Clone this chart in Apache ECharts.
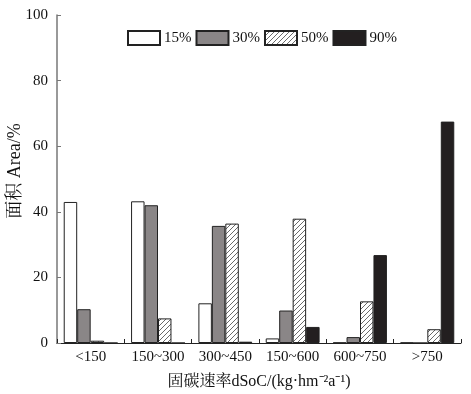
<!DOCTYPE html>
<html><head><meta charset="utf-8">
<script src="https://cdn.jsdelivr.net/npm/echarts@6/dist/echarts.min.js"></script>
<style>html,body{margin:0;padding:0;background:#fff}#c{width:471px;height:394px}</style>
</head><body><div id="c"></div>
<script>
const categories = ['<150', '150~300', '300~450', '150~600', '600~750', '>750'];
const seriesNames = ['15%', '30%', '50%', '90%'];
const s15 = [43.0, 43.2, 12.1, 1.4, 0.1, 0.1];
const s30 = [10.3, 42.0, 35.7, 9.9, 1.8, 0];
const s50 = [0.7, 7.5, 36.4, 37.9, 12.7, 4.2];
const s90 = [0, 0, 0.4, 4.9, 26.8, 67.5];
const yTicks = [0, 20, 40, 60, 80, 100];

const FONT = '"Liberation Serif", "Noto Serif CJK SC", "Noto Sans CJK SC", serif';

function hatch() {
  const c = document.createElement('canvas');
  c.width = 5; c.height = 5;
  const g = c.getContext('2d');
  g.fillStyle = '#fff'; g.fillRect(0, 0, 5, 5);
  g.strokeStyle = '#444'; g.lineWidth = 0.8;
  g.beginPath();
  g.moveTo(-1, 6); g.lineTo(6, -1);
  g.moveTo(-3, 3); g.lineTo(3, -3);
  g.moveTo(2, 8); g.lineTo(8, 2);
  g.stroke();
  return { image: c, repeat: 'repeat' };
}

const styles = [
  { color: '#ffffff', borderColor: '#222', borderWidth: 1 },
  { color: '#8a8687', borderColor: '#222', borderWidth: 1 },
  { color: hatch(), borderColor: '#222', borderWidth: 1 },
  { color: '#231f20', borderColor: '#222', borderWidth: 1 }
];
const data = [s15, s30, s50, s90];

const chart = echarts.init(document.getElementById('c'), null, { renderer: 'canvas' });
chart.setOption({
  animation: false,
  backgroundColor: '#fff',
  textStyle: { fontFamily: FONT },
  grid: { left: 57, right: 10, top: 15, bottom: 51, containLabel: false, outerBoundsMode: 'none' },
  legend: {
    top: 30, left: 127, icon: 'rect', padding: 0,
    itemWidth: 32, itemHeight: 14, itemGap: 4,
    textStyle: { fontFamily: FONT, fontSize: 15, color: '#111', padding: [0, 0, 0, -1] },
    data: seriesNames
  },
  xAxis: {
    type: 'category', data: categories,
    axisLine: { lineStyle: { color: '#222', width: 1 } },
    axisTick: { show: true, inside: true, length: 4, lineStyle: { color: '#222' } },
    axisLabel: { fontFamily: FONT, fontSize: 15, color: '#111', margin: 7, interval: 0 },
    name: '固碳速率dSoC/(kg·hm⁻²a⁻¹)',
    nameLocation: 'middle', nameGap: 31, nameMoveOverlap: false,
    nameTextStyle: { fontFamily: FONT, fontSize: 16, color: '#111' }
  },
  yAxis: {
    type: 'value', min: 0, max: 100, interval: 20,
    splitLine: { show: false },
    axisLine: { show: true, lineStyle: { color: '#777', width: 1.5 } },
    axisTick: { show: true, inside: true, length: 4, lineStyle: { color: '#777' } },
    axisLabel: { fontFamily: FONT, fontSize: 15, color: '#111', margin: 9,
      formatter: v => yTicks.includes(v) ? String(v) : '' },
    name: '面积 Area/%',
    nameLocation: 'middle', nameGap: 33, nameMoveOverlap: false,
    nameTextStyle: { fontFamily: FONT, fontSize: 18, color: '#111', padding: [0, 0, 0, 16] }
  },
  series: seriesNames.map((n, i) => ({
    name: n, type: 'bar', data: data[i],
    barGap: '0%', barCategoryGap: '20%',
    itemStyle: styles[i]
  }))
});
</script></body></html>
